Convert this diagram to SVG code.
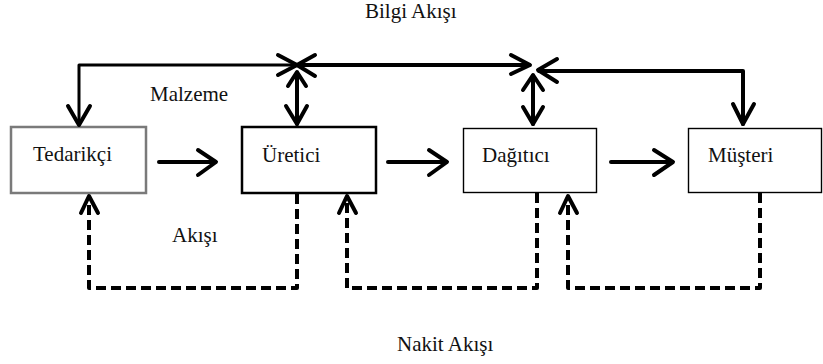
<svg xmlns="http://www.w3.org/2000/svg" width="823" height="364" viewBox="0 0 823 364">
<style>
text{font-family:'Liberation Serif','Times New Roman',serif;font-size:21px;fill:#111}
.thick{fill:none;stroke:#000;stroke-width:4;stroke-linecap:round;stroke-linejoin:round}
.mid{fill:none;stroke:#000;stroke-width:3;stroke-linecap:round;stroke-linejoin:round}
.dash{fill:none;stroke:#000;stroke-width:4;stroke-dasharray:10 5;stroke-linejoin:round}
.head{fill:none;stroke:#000;stroke-width:4;stroke-linecap:round;stroke-linejoin:round}
</style>
<rect width="823" height="364" fill="#fff"/>
<g id="tedarikci">
<rect x="11" y="127" width="135" height="66" fill="#fff" stroke="#7a7a7a" stroke-width="2.5"/>
<text x="33" y="161">Tedarikçi</text>
</g>
<g id="uretici">
<rect x="242" y="127" width="134" height="66" fill="#fff" stroke="#000" stroke-width="2.5"/>
<text x="262" y="162">Üretici</text>
</g>
<g id="dagitici">
<rect x="463.5" y="128.5" width="133" height="64" fill="#fff" stroke="#000" stroke-width="1.4"/>
<text x="482" y="162">Dağıtıcı</text>
</g>
<g id="musteri">
<rect x="688.5" y="128.5" width="133" height="64" fill="#fff" stroke="#000" stroke-width="1.4"/>
<text x="708" y="162">Müşteri</text>
</g>
<g id="labels">
<text x="365" y="18">Bilgi Akışı</text>
<text x="150" y="101">Malzeme</text>
<text x="172" y="242">Akışı</text>
<text x="397" y="351">Nakit Akışı</text>
</g>
<g id="connectors">
<path class="thick" d="M159,162 L215,162"/>
<path class="head" d="M198,150 L216,162 L198,175"/>
<path class="thick" d="M388,162 L446,162"/>
<path class="head" d="M429,150 L447,162 L429,175"/>
<path class="thick" d="M611,162 L672,162"/>
<path class="head" d="M654,150 L673,162 L654,175"/>
<path class="mid" d="M79,124 L79,65 L296,65"/>
<path class="head" d="M68,106 L79,125 L90,106"/>
<path class="head" d="M278,55 L297,65 L278,75"/>
<path class="thick" d="M298,65 L529,65"/>
<path class="head" d="M315,55 L297,65 L315,76"/>
<path class="head" d="M511,55 L530,65 L511,74"/>
<path class="thick" d="M539,71 L743,71 L743,124"/>
<path class="head" d="M557,59 L538,70 L557,82"/>
<path class="head" d="M733,104 L743,124 L754,104"/>
<path class="thick" d="M297,73 L297,124"/>
<path class="head" d="M288,86 L297,72 L306,86"/>
<path class="head" d="M286,106 L297,124 L307,106"/>
<path class="thick" d="M533,76 L533,124"/>
<path class="head" d="M523,90 L533,75 L543,90"/>
<path class="head" d="M523,107 L533,124 L543,107"/>
<path class="dash" d="M297,194 L297,288 L89,288 L89,196"/>
<path class="head" d="M81,213 L89,196 L98,213"/>
<path class="dash" d="M537,193 L537,288 L347,288 L347,196"/>
<path class="head" d="M339,213 L347,196 L356,213"/>
<path class="dash" d="M760,193 L760,288 L568,288 L568,196"/>
<path class="head" d="M560,213 L568,196 L577,213"/>
</g>
</svg>
